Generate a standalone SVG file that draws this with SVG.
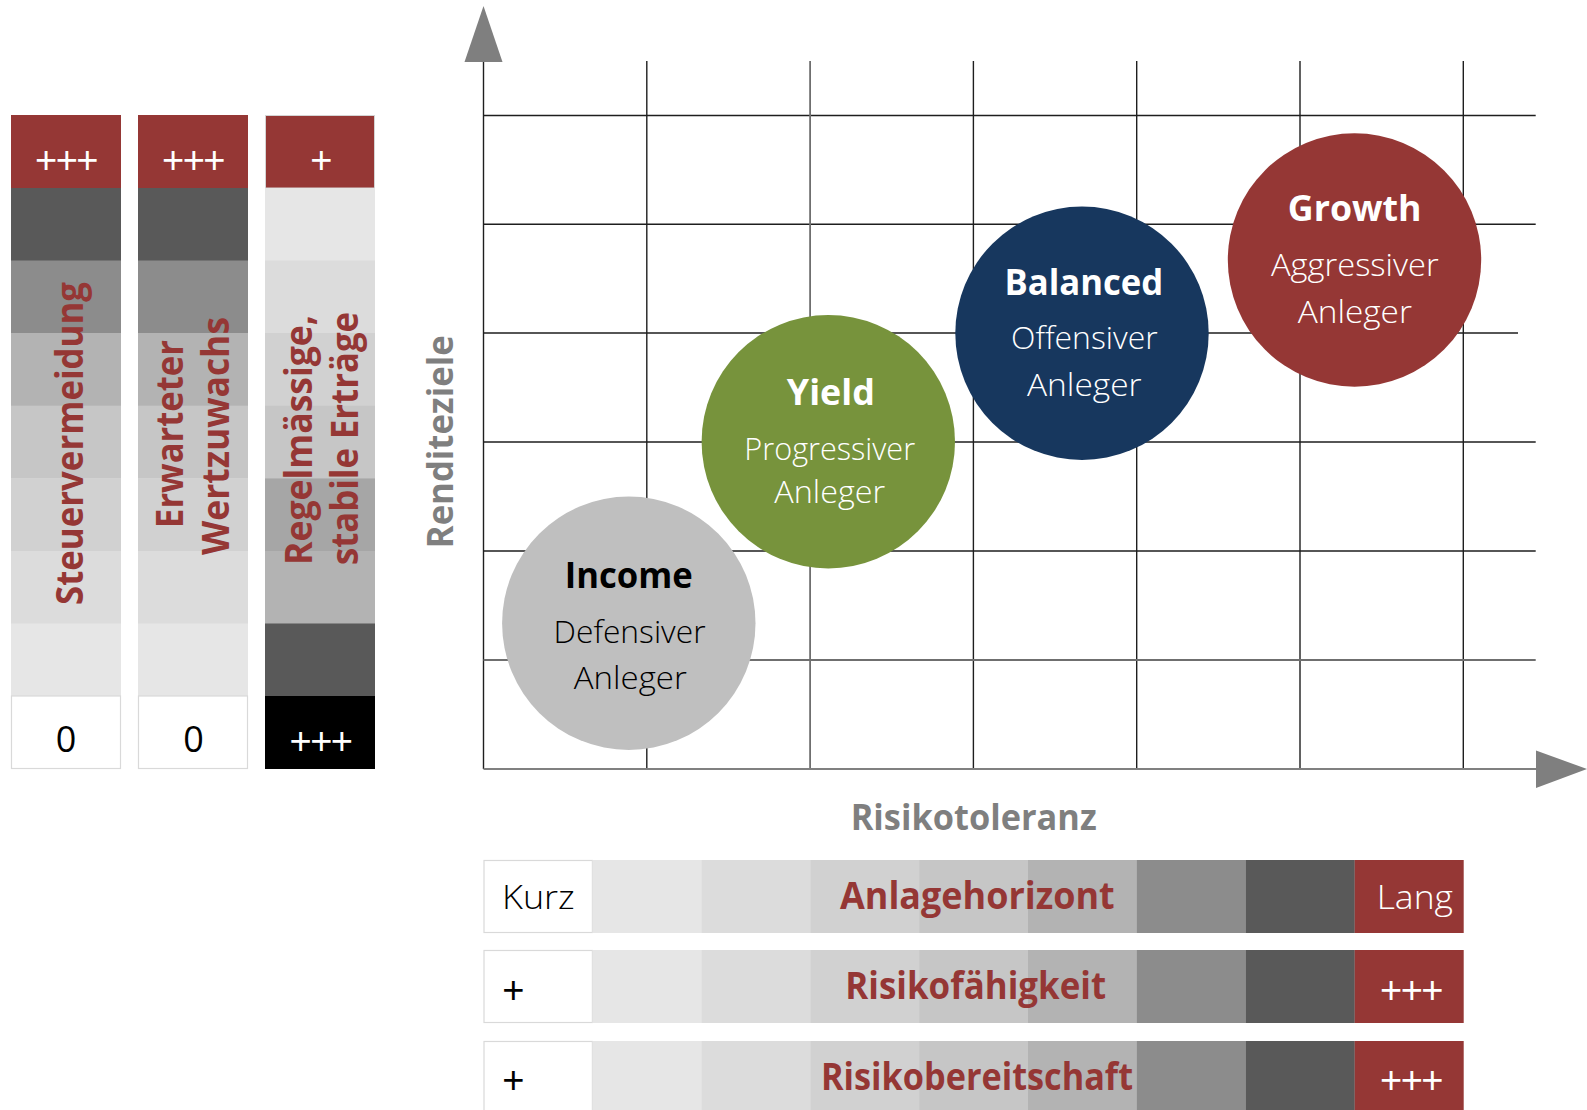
<svg xmlns="http://www.w3.org/2000/svg" width="1587" height="1110" viewBox="0 0 1587 1110">
  <style>
    text { font-family: "Open Sans", "Liberation Sans", sans-serif; }
    .lbl { font-weight: 700; fill: #953735; font-size: 37px; }
    .axis-lbl { font-weight: 700; fill: #7f7f7f; font-size: 36px; text-anchor: middle; }
    .title { font-weight: 700; font-size: 35px; text-anchor: middle; }
    .sub { font-weight: 300; font-size: 32px; text-anchor: middle; }
    .sign { font-family: "Liberation Sans", Arial, sans-serif; font-size: 38px; text-anchor: middle; letter-spacing: -1.5px; }
    .num { font-size: 36px; text-anchor: middle; fill: #000; }
    .cell-text { font-size: 33px; font-weight: 300; }
    .grid { stroke: #1e1e1e; stroke-width: 1.4; fill: none; }
    .grid-soft { stroke: #6f6f6f; stroke-width: 1.8; fill: none; }
    .axis { stroke: #808080; stroke-width: 2; fill: none; }
    .head { fill: #7f7f7f; }
    .white-cell { fill: #ffffff; stroke: #d9d9d9; stroke-width: 1.2; }
  </style>

  <!-- Vertical scale bars (left) -->
  <g id="bar-steuervermeidung">
    <rect x="11" y="115" width="110" height="73" fill="#953735"/>
    <rect x="11" y="188" width="110" height="73" fill="#595959"/>
    <rect x="11" y="260.5" width="110" height="73" fill="#8c8c8c"/>
    <rect x="11" y="333" width="110" height="73" fill="#b3b3b3"/>
    <rect x="11" y="405.7" width="110" height="73" fill="#c6c6c6"/>
    <rect x="11" y="478.3" width="110" height="73" fill="#d1d1d1"/>
    <rect x="11" y="551" width="110" height="73" fill="#dcdcdc"/>
    <rect x="11" y="623.5" width="110" height="72.5" fill="#e6e6e6"/>
    <rect class="white-cell" x="11.5" y="696" width="109" height="72.5"/>
    <text class="sign" x="66" y="172.5" fill="#ffffff">+++</text>
    <text class="num" x="66" y="751.5">0</text>
    <text class="lbl" transform="translate(83.3,443.5) rotate(-90)" text-anchor="middle" textLength="323" lengthAdjust="spacingAndGlyphs">Steuervermeidung</text>
  </g>

  <g id="bar-wertzuwachs">
    <rect x="138" y="115" width="110" height="73" fill="#953735"/>
    <rect x="138" y="188" width="110" height="73" fill="#595959"/>
    <rect x="138" y="260.5" width="110" height="73" fill="#8c8c8c"/>
    <rect x="138" y="333" width="110" height="73" fill="#b3b3b3"/>
    <rect x="138" y="405.7" width="110" height="73" fill="#c6c6c6"/>
    <rect x="138" y="478.3" width="110" height="73" fill="#d1d1d1"/>
    <rect x="138" y="551" width="110" height="73" fill="#dcdcdc"/>
    <rect x="138" y="623.5" width="110" height="72.5" fill="#e6e6e6"/>
    <rect class="white-cell" x="138.5" y="696" width="109" height="72.5"/>
    <text class="sign" x="193" y="172.5" fill="#ffffff">+++</text>
    <text class="num" x="193.5" y="751.5">0</text>
    <text class="lbl" transform="translate(183.3,434) rotate(-90)" text-anchor="middle" textLength="188" lengthAdjust="spacingAndGlyphs">Erwarteter</text>
    <text class="lbl" transform="translate(229.3,436) rotate(-90)" text-anchor="middle" textLength="238" lengthAdjust="spacingAndGlyphs">Wertzuwachs</text>
  </g>

  <g id="bar-ertraege">
    <rect x="265.5" y="115.5" width="109" height="72.5" fill="#953735" stroke="#d4d4d4" stroke-width="1"/>
    <rect x="265" y="188" width="110" height="73" fill="#e6e6e6"/>
    <rect x="265" y="260.5" width="110" height="73" fill="#dcdcdc"/>
    <rect x="265" y="333" width="110" height="73" fill="#d1d1d1"/>
    <rect x="265" y="405.7" width="110" height="73" fill="#c6c6c6"/>
    <rect x="265" y="478.3" width="110" height="73" fill="#a6a6a6"/>
    <rect x="265" y="551" width="110" height="73" fill="#b3b3b3"/>
    <rect x="265" y="623.5" width="110" height="73" fill="#595959"/>
    <rect x="265" y="696" width="110" height="73" fill="#000000"/>
    <text class="sign" x="320.5" y="172.5" fill="#ffffff">+</text>
    <text class="sign" x="320.5" y="753.5" fill="#ffffff">+++</text>
    <text class="lbl" transform="translate(311.7,565) rotate(-90)" text-anchor="start" textLength="250" lengthAdjust="spacingAndGlyphs">Regelmässige,</text>
    <text class="lbl" transform="translate(358.3,565) rotate(-90)" text-anchor="start" textLength="253" lengthAdjust="spacingAndGlyphs">stabile Erträge</text>
  </g>

  <!-- Chart grid and axes -->
  <g id="connectors">
    <g class="grid">
      <line x1="646.8" y1="61" x2="646.8" y2="769"/>
      <line x1="973.4" y1="61" x2="973.4" y2="769"/>
      <line x1="1136.7" y1="61" x2="1136.7" y2="769"/>
      <line x1="1300" y1="61" x2="1300" y2="769"/>
      <line x1="1463.3" y1="61" x2="1463.3" y2="769"/>
      <line x1="483.5" y1="115.5" x2="1535.7" y2="115.5"/>
      <line x1="483.5" y1="224.3" x2="1535.7" y2="224.3"/>
      <line x1="483.5" y1="333" x2="1518" y2="333"/>
      <line x1="483.5" y1="442" x2="1535.7" y2="442"/>
      <line x1="483.5" y1="551" x2="1535.7" y2="551"/>
      <line x1="483.5" y1="61" x2="483.5" y2="769"/>
    </g>
    <g class="grid-soft">
      <line x1="810.1" y1="61" x2="810.1" y2="769"/>
      <line x1="483.5" y1="660" x2="1535.7" y2="660"/>
    </g>
    <line class="axis" x1="483.5" y1="769" x2="1537" y2="769"/>
    <polygon class="head" points="483.5,6 502.5,62 464.5,62"/>
    <polygon class="head" points="1536,750.5 1587,769 1536,788"/>
  </g>

  <text class="axis-lbl" transform="translate(453,441.7) rotate(-90)" textLength="213" lengthAdjust="spacingAndGlyphs">Renditeziele</text>
  <text class="axis-lbl" x="973.7" y="830" textLength="246" lengthAdjust="spacingAndGlyphs">Risikotoleranz</text>

  <!-- Investor profiles -->
  <g id="node-income">
    <circle cx="628.8" cy="623.3" r="126.7" fill="#bfbfbf"/>
    <text class="title" x="628.8" y="588.3" fill="#000" textLength="128" lengthAdjust="spacingAndGlyphs">Income</text>
    <text class="sub" x="629.5" y="643.3" fill="#000" textLength="152" lengthAdjust="spacingAndGlyphs">Defensiver</text>
    <text class="sub" x="630.3" y="689.3" fill="#000" textLength="113" lengthAdjust="spacingAndGlyphs">Anleger</text>
  </g>

  <g id="node-yield">
    <circle cx="828.3" cy="441.7" r="126.7" fill="#77933c"/>
    <text class="title" x="830.8" y="405" fill="#fff" textLength="88" lengthAdjust="spacingAndGlyphs">Yield</text>
    <text class="sub" x="829.7" y="460" fill="#fff" textLength="170.7" lengthAdjust="spacingAndGlyphs">Progressiver</text>
    <text class="sub" x="829.7" y="503.3" fill="#fff" textLength="110.7" lengthAdjust="spacingAndGlyphs">Anleger</text>
  </g>

  <g id="node-balanced">
    <circle cx="1082" cy="333.3" r="126.7" fill="#17375e"/>
    <text class="title" x="1083.8" y="295" fill="#fff" textLength="158.8" lengthAdjust="spacingAndGlyphs">Balanced</text>
    <text class="sub" x="1084.3" y="349" fill="#fff" textLength="146.6" lengthAdjust="spacingAndGlyphs">Offensiver</text>
    <text class="sub" x="1084.3" y="396" fill="#fff" textLength="114.6" lengthAdjust="spacingAndGlyphs">Anleger</text>
  </g>

  <g id="node-growth">
    <circle cx="1354.5" cy="260" r="126.7" fill="#953735"/>
    <text class="title" x="1354.7" y="220.7" fill="#fff" textLength="133.7" lengthAdjust="spacingAndGlyphs">Growth</text>
    <text class="sub" x="1354.8" y="276" fill="#fff" textLength="167.6" lengthAdjust="spacingAndGlyphs">Aggressiver</text>
    <text class="sub" x="1354.8" y="322.7" fill="#fff" textLength="114.3" lengthAdjust="spacingAndGlyphs">Anleger</text>
  </g>

  <!-- Horizontal scale bars (bottom) -->
  <g id="bar-anlagehorizont">
    <rect class="white-cell" x="484" y="860.5" width="108.4" height="72"/>
    <rect x="592.4" y="860" width="109" height="73" fill="#e6e6e6"/>
    <rect x="701.3" y="860" width="109" height="73" fill="#dcdcdc"/>
    <rect x="810.2" y="860" width="109" height="73" fill="#d1d1d1"/>
    <rect x="919.1" y="860" width="109" height="73" fill="#c6c6c6"/>
    <rect x="1028" y="860" width="109" height="73" fill="#b3b3b3"/>
    <rect x="1136.9" y="860" width="109" height="73" fill="#8c8c8c"/>
    <rect x="1245.8" y="860" width="109" height="73" fill="#595959"/>
    <rect x="1354.7" y="860" width="109" height="73" fill="#953735"/>
    <text class="cell-text" x="502" y="909" fill="#000" textLength="72.7" lengthAdjust="spacingAndGlyphs">Kurz</text>
    <text class="cell-text" x="1376.7" y="909" fill="#fff" textLength="76.3" lengthAdjust="spacingAndGlyphs">Lang</text>
    <text class="lbl" x="977.3" y="909" text-anchor="middle" textLength="274.6" lengthAdjust="spacingAndGlyphs">Anlagehorizont</text>
  </g>

  <g id="bar-risikofaehigkeit">
    <rect class="white-cell" x="484" y="950.5" width="108.4" height="72"/>
    <rect x="592.4" y="950" width="109" height="73" fill="#e6e6e6"/>
    <rect x="701.3" y="950" width="109" height="73" fill="#dcdcdc"/>
    <rect x="810.2" y="950" width="109" height="73" fill="#d1d1d1"/>
    <rect x="919.1" y="950" width="109" height="73" fill="#c6c6c6"/>
    <rect x="1028" y="950" width="109" height="73" fill="#b3b3b3"/>
    <rect x="1136.9" y="950" width="109" height="73" fill="#8c8c8c"/>
    <rect x="1245.8" y="950" width="109" height="73" fill="#595959"/>
    <rect x="1354.7" y="950" width="109" height="73" fill="#953735"/>
    <text class="sign" x="512.7" y="1003" fill="#000">+</text>
    <text class="sign" x="1411" y="1003" fill="#fff">+++</text>
    <text class="lbl" x="975.7" y="999.3" text-anchor="middle" textLength="260.7" lengthAdjust="spacingAndGlyphs">Risikofähigkeit</text>
  </g>

  <g id="bar-risikobereitschaft">
    <rect class="white-cell" x="484" y="1041.5" width="108.4" height="72"/>
    <rect x="592.4" y="1041" width="109" height="73" fill="#e6e6e6"/>
    <rect x="701.3" y="1041" width="109" height="73" fill="#dcdcdc"/>
    <rect x="810.2" y="1041" width="109" height="73" fill="#d1d1d1"/>
    <rect x="919.1" y="1041" width="109" height="73" fill="#c6c6c6"/>
    <rect x="1028" y="1041" width="109" height="73" fill="#b3b3b3"/>
    <rect x="1136.9" y="1041" width="109" height="73" fill="#8c8c8c"/>
    <rect x="1245.8" y="1041" width="109" height="73" fill="#595959"/>
    <rect x="1354.7" y="1041" width="109" height="73" fill="#953735"/>
    <text class="sign" x="512.7" y="1092.5" fill="#000">+</text>
    <text class="sign" x="1411" y="1092.5" fill="#fff">+++</text>
    <text class="lbl" x="977" y="1090" text-anchor="middle" textLength="312" lengthAdjust="spacingAndGlyphs">Risikobereitschaft</text>
  </g>
</svg>
